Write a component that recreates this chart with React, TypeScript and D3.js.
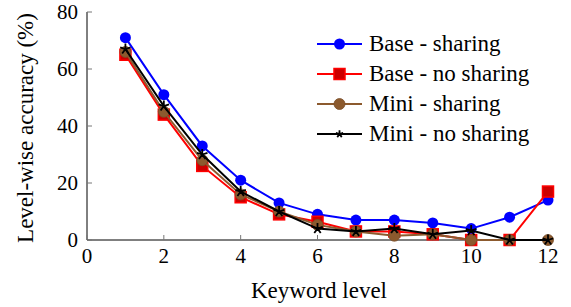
import React from "react";
import * as d3 from "d3";

const levels = [1, 2, 3, 4, 5, 6, 7, 8, 9, 10, 11, 12];
const baseSharing = [71, 51, 33, 21, 13, 9, 7, 7, 6, 4, 8, 14];
const baseNoSharing = [65, 44, 26, 15, 9, 6.4, 3, 3, 2, 0, 0, 17];
const miniSharing = [66, 45, 28, 16, 10, 5.3, 3, 1.5, 2, 0, 0, 0];
const miniNoSharing = [67, 47, 30, 17, 10, 4, 3, 4, 2, 3.3, 0, 0];
const xTicks = [0, 2, 4, 6, 8, 10, 12];
const yTicks = [0, 20, 40, 60, 80];

const seriesNames = ["Base - sharing", "Base - no sharing", "Mini - sharing", "Mini - no sharing"];
const seriesColors = ["#0000ff", "#ff0000", "#8c5a2e", "#000000"];
const seriesMarkers = ["circle", "square", "brownCircle", "star"];
const seriesValues = [baseSharing, baseNoSharing, miniSharing, miniNoSharing];

const font = "Liberation Serif, Times New Roman, Times, serif";

function starPath(r: number) {
  let d = "";
  for (let k = 0; k < 5; k++) {
    const a = -Math.PI / 2 + (k * 2 * Math.PI) / 5;
    d += `M0,0L${(r * Math.cos(a)).toFixed(2)},${(r * Math.sin(a)).toFixed(2)}`;
  }
  return d;
}

function Marker({ type, x, y, s = 1 }: { type: string; x: number; y: number; s?: number }) {
  if (type === "circle") return <circle cx={x} cy={y} r={5.5 * s} fill="#0000ff" />;
  if (type === "square")
    return (
      <rect x={x - 5.5 * s} y={y - 5.5 * s} width={11 * s} height={11 * s} fill="#cc0000" stroke="#ff0000" strokeWidth={1.5} />
    );
  if (type === "brownCircle")
    return <circle cx={x} cy={y} r={5.5 * s} fill="#8c5a2e" stroke="#7a4e28" strokeWidth={0.8} />;
  return <path d={starPath(5.5 * s)} transform={`translate(${x},${y})`} fill="none" stroke="#000" strokeWidth={1.8} />;
}

export default function App() {
  const W = 571, H = 307;
  const x = d3.scaleLinear().domain([0, 12]).range([87, 548]);
  const y = d3.scaleLinear().domain([0, 80]).range([240, 12]);
  const line = d3.line<number>().x((_, i) => x(levels[i])).y((d) => y(d));
  const tickStyle = { fontFamily: font, fontSize: 21 };
  const ts = { fontFamily: font, fontSize: 23 };

  return (
    <svg width={W} height={H} style={{ position: "absolute", left: 0, top: 0 }}>
      <rect width={W} height={H} fill="#fff" />
      <line x1={x(0)} x2={x(0)} y1={y(80)} y2={y(0)} stroke="#000" strokeWidth={1} />
      <line x1={x(0)} x2={x(12)} y1={y(0)} y2={y(0)} stroke="#000" strokeWidth={1} />
      {yTicks.map((t) => (
        <g key={"y" + t}>
          <line x1={x(0)} x2={x(0) + 5} y1={y(t)} y2={y(t)} stroke="#777" strokeWidth={1} />
          <text x={x(0) - 9} y={y(t)} dy="0.33em" textAnchor="end" style={tickStyle}>
            {t}
          </text>
        </g>
      ))}
      {xTicks.map((t) => (
        <g key={"x" + t}>
          <line x1={x(t)} x2={x(t)} y1={y(0)} y2={y(0) - 5} stroke="#777" strokeWidth={1} />
          <text x={x(t)} y={263} textAnchor="middle" style={tickStyle}>
            {t}
          </text>
        </g>
      ))}
      <text x={319} y={298} textAnchor="middle" style={ts}>
        Keyword level
      </text>
      <text transform={`translate(33,128) rotate(-90)`} textAnchor="middle" style={ts}>
        Level-wise accuracy (%)
      </text>
      {seriesValues.map((vals, si) => (
        <g key={"s" + si}>
          <path d={line(vals) || ""} fill="none" stroke={seriesColors[si]} strokeWidth={2} />
          {vals.map((v, i) => (
            <Marker key={i} type={seriesMarkers[si]} x={x(levels[i])} y={y(v)} />
          ))}
        </g>
      ))}
      {seriesNames.map((n, i) => {
        const ly = 44 + i * 30;
        return (
          <g key={"l" + i}>
            <line x1={317} x2={362} y1={ly} y2={ly} stroke={seriesColors[i]} strokeWidth={2} />
            <Marker type={seriesMarkers[i]} x={339.5} y={ly} s={i === 3 ? 0.7 : 1} />
            <text x={369} y={ly + 7} style={ts}>
              {n}
            </text>
          </g>
        );
      })}
    </svg>
  );
}
